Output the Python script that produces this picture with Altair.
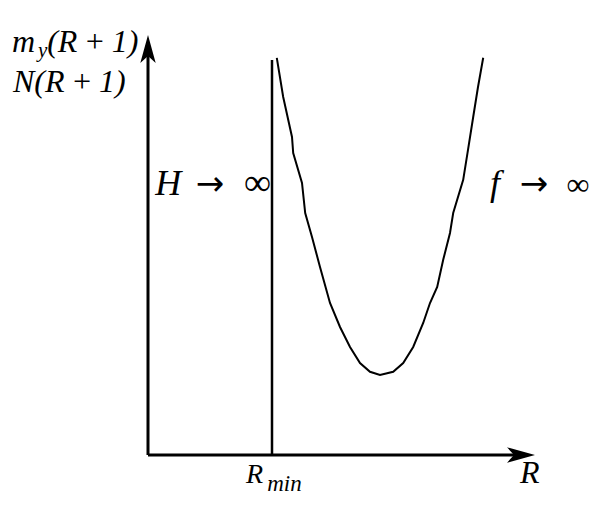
import altair as alt
import pandas as pd

# U-shaped curve (R, value), arbitrary units
curve_r = [3.22, 3.38, 3.60, 3.63, 3.85, 3.93, 4.10, 4.30, 4.55, 4.80, 5.05, 5.30,
           5.55, 5.80, 6.13, 6.38, 6.63, 6.88, 7.05, 7.23, 7.38, 7.55, 7.63, 7.88,
           8.00, 8.13, 8.25, 8.38]
curve_v = [9.93, 8.95, 7.95, 7.55, 6.80, 6.05, 5.45, 4.70, 3.80, 3.20, 2.70, 2.30,
           2.08, 2.00, 2.08, 2.30, 2.70, 3.30, 3.80, 4.20, 4.88, 5.55, 6.05, 6.88,
           7.63, 8.45, 9.20, 9.93]

r_min = 3.1          # position of the vertical asymptote
r_min_top = 9.875    # top of the asymptote line
x_axis_end = 9.675   # tip of the R arrow
y_axis_end = 10.5    # tip of the vertical arrow

# text labels (italic serif)
lab_text = ["m", "(R\u2009+\u20091)", "N(R\u2009+\u20091)", "H", "f", "R", "R"]
lab_x = [-3.4, -2.52, -3.375, 0.18, 8.55, 2.45, 9.3]
lab_y = [10.075, 10.075, 9.075, 6.5, 6.5, -0.7, -0.7]
lab_size = [32, 32, 32, 36, 36, 28, 32]

sub_text = ["y", "min"]
sub_x = [-2.75, 2.98]
sub_y = [9.95, -0.9]
sub_size = [21, 23]

arr_text = ["→", "→"]
arr_x = [1.55, 9.65]
arr_y = [6.5, 6.5]
arr_size = [34, 34]

inf_text = ["∞", "∞"]
inf_x = [2.74, 10.75]
inf_y = [6.5, 6.5]
inf_size = [38, 32]

xs = alt.Scale(domain=[0, 10], nice=False, zero=False)
ys = alt.Scale(domain=[0, 10], nice=False, zero=False)

df_curve = pd.DataFrame({"r": curve_r, "v": curve_v, "i": range(len(curve_r))})
head = 0.35  # half arrowhead length in data units
df_rules = pd.DataFrame({
    "x": [0, 0, r_min], "y": [0, 0, 0],
    "x2": [0, x_axis_end - head, r_min], "y2": [y_axis_end - head, 0, r_min_top],
    "w": [3, 3, 2.5],
})
df_heads = pd.DataFrame({
    "x": [0, x_axis_end - head], "y": [y_axis_end - head, 0], "a": [0, 90]
})


def text_layer(texts, xv, yv, sizes, **mark_kw):
    df = pd.DataFrame({"t": texts, "x": xv, "y": yv, "s": sizes})
    return alt.Chart(df).mark_text(baseline="alphabetic", color="black", **mark_kw).encode(
        x=alt.X("x:Q", scale=xs, axis=None),
        y=alt.Y("y:Q", scale=ys, axis=None),
        text="t:N",
        size=alt.Size("s:Q", scale=None),
    )


curve = alt.Chart(df_curve).mark_line(color="black", strokeWidth=2).encode(
    x=alt.X("r:Q", scale=xs, axis=None),
    y=alt.Y("v:Q", scale=ys, axis=None),
    order="i:Q",
)

rules = alt.Chart(df_rules).mark_rule(color="black", strokeCap="butt").encode(
    x=alt.X("x:Q", scale=xs, axis=None), x2="x2:Q",
    y=alt.Y("y:Q", scale=ys, axis=None), y2="y2:Q",
    strokeWidth=alt.StrokeWidth("w:Q", scale=None),
)

arrow_path = "M0,-1 L0.55,1 L0,0.5 L-0.55,1 Z"
heads = alt.Chart(df_heads).mark_point(
    shape=arrow_path, filled=True, color="black", opacity=1, size=784
).encode(
    x=alt.X("x:Q", scale=xs, axis=None),
    y=alt.Y("y:Q", scale=ys, axis=None),
    angle=alt.Angle("a:Q", scale=None),
)

labels = text_layer(lab_text, lab_x, lab_y, lab_size,
                    font="Liberation Serif", fontStyle="italic", align="left")
subs = text_layer(sub_text, sub_x, sub_y, sub_size,
                  font="Liberation Serif", fontStyle="italic", align="left")
arrows = text_layer(arr_text, arr_x, arr_y, arr_size,
                    font="DejaVu Sans", align="center")
infs = text_layer(inf_text, inf_x, inf_y, inf_size,
                  font="Liberation Serif", align="center")

chart = alt.layer(rules, curve, heads, labels, subs, arrows, infs).properties(
    width=400, height=400,
    autosize=alt.AutoSizeParams(type="none"),
    padding={"left": 140, "top": 47, "right": 44, "bottom": 40},
    background="white",
).configure_view(stroke=None)

chart.save("out.html", embed_options={"renderer": "svg", "actions": False})
